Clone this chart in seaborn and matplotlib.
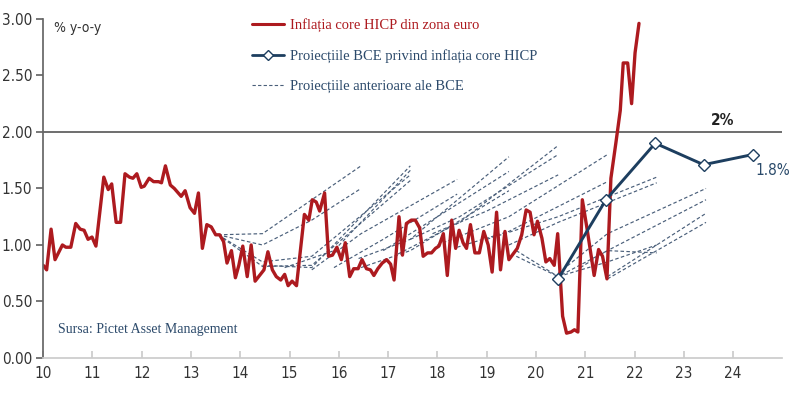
import pandas as pd
import matplotlib.pyplot as plt
import seaborn as sns
from matplotlib.lines import Line2D

# Inflatia core HICP
core_x = [2010.00, 2010.07, 2010.16, 2010.24, 2010.39, 2010.46, 2010.56, 2010.66, 2010.75, 2010.83,
          2010.91, 2010.99, 2011.07, 2011.23, 2011.32, 2011.39, 2011.48, 2011.57, 2011.66, 2011.75,
          2011.82, 2011.90, 2011.99, 2012.05, 2012.15, 2012.24, 2012.34, 2012.40, 2012.48, 2012.58,
          2012.66, 2012.80, 2012.88, 2012.98, 2013.07, 2013.15, 2013.23, 2013.32, 2013.41, 2013.50,
          2013.58, 2013.66, 2013.73, 2013.82, 2013.90, 2013.97, 2014.05, 2014.14, 2014.22, 2014.30,
          2014.39, 2014.48, 2014.56, 2014.65, 2014.73, 2014.82, 2014.90, 2014.97, 2015.05, 2015.14,
          2015.30, 2015.39, 2015.46, 2015.54, 2015.61, 2015.71, 2015.79, 2015.87, 2015.96, 2016.05,
          2016.13, 2016.22, 2016.30, 2016.39, 2016.47, 2016.56, 2016.64, 2016.71, 2016.79, 2016.88,
          2016.97, 2017.05, 2017.12, 2017.22, 2017.29, 2017.37, 2017.47, 2017.55, 2017.64, 2017.71,
          2017.80, 2017.88, 2017.96, 2018.03, 2018.12, 2018.20, 2018.29, 2018.37, 2018.44, 2018.52,
          2018.59, 2018.67, 2018.76, 2018.85, 2018.94, 2019.03, 2019.11, 2019.20, 2019.28, 2019.37,
          2019.45, 2019.62, 2019.71, 2019.80, 2019.88, 2019.96, 2020.03, 2020.12, 2020.20, 2020.28,
          2020.37, 2020.44, 2020.54, 2020.62, 2020.71, 2020.78, 2020.85, 2020.94, 2021.03, 2021.10,
          2021.18, 2021.27, 2021.35, 2021.44, 2021.52, 2021.62, 2021.71, 2021.77, 2021.86, 2021.94,
          2022.01, 2022.09]
core_y = [0.82, 0.78, 1.14, 0.87, 1.00, 0.98, 0.98, 1.19, 1.14, 1.13,
          1.05, 1.07, 0.99, 1.60, 1.49, 1.54, 1.20, 1.20, 1.63, 1.60,
          1.59, 1.63, 1.51, 1.52, 1.59, 1.56, 1.56, 1.55, 1.70, 1.53,
          1.50, 1.43, 1.48, 1.33, 1.28, 1.46, 0.97, 1.18, 1.16, 1.09,
          1.09, 1.03, 0.84, 0.95, 0.71, 0.82, 0.99, 0.72, 1.00, 0.68,
          0.73, 0.78, 0.94, 0.78, 0.72, 0.69, 0.74, 0.64, 0.68, 0.64,
          1.27, 1.22, 1.40, 1.38, 1.30, 1.46, 0.90, 0.91, 0.98, 0.87,
          1.02, 0.72, 0.79, 0.79, 0.87, 0.79, 0.78, 0.73, 0.79, 0.84,
          0.87, 0.83, 0.69, 1.25, 0.91, 1.19, 1.22, 1.22, 1.15, 0.90,
          0.93, 0.93, 0.97, 0.99, 1.10, 0.73, 1.22, 0.97, 1.13, 1.02,
          0.97, 1.18, 0.93, 0.93, 1.12, 1.00, 0.76, 1.29, 0.78, 1.12,
          0.87, 0.97, 1.09, 1.31, 1.29, 1.09, 1.21, 1.06, 0.85, 0.88,
          0.82, 1.10, 0.37, 0.22, 0.23, 0.25, 0.23, 1.40, 1.16, 0.96,
          0.73, 0.96, 0.90, 0.70, 1.59, 1.90, 2.19, 2.61, 2.61, 2.25,
          2.70, 2.96]

# Proiectiile BCE actuale
ecb_x = [2020.45, 2021.42, 2022.42, 2023.40, 2024.40]
ecb_y = [0.70, 1.40, 1.90, 1.71, 1.80]

# Proiectiile anterioare (fiecare lista = o linie)
prev_proj = [
    [(2013.55, 1.09), (2014.45, 1.10), (2016.45, 1.70)],
    [(2013.55, 1.09), (2014.45, 1.00), (2015.45, 1.22), (2016.45, 1.50)],
    [(2013.55, 1.09), (2014.45, 0.85), (2015.45, 0.90), (2017.45, 1.62)],
    [(2013.55, 1.09), (2014.45, 0.81), (2015.45, 0.82), (2017.45, 1.57)],
    [(2014.45, 0.82), (2015.45, 0.80), (2017.45, 1.70)],
    [(2014.90, 0.80), (2015.90, 0.95), (2017.45, 1.66)],
    [(2015.45, 0.78), (2016.45, 1.10), (2018.40, 1.58)],
    [(2015.90, 0.80), (2016.90, 1.05), (2018.40, 1.45)],
    [(2016.40, 0.88), (2017.45, 1.05), (2019.45, 1.78)],
    [(2016.90, 0.95), (2018.00, 1.25), (2019.45, 1.65)],
    [(2016.45, 0.80), (2017.45, 0.95), (2019.45, 1.48)],
    [(2017.20, 0.92), (2018.45, 1.20), (2020.45, 1.88)],
    [(2017.45, 1.05), (2018.45, 1.25), (2020.45, 1.80)],
    [(2017.90, 1.10), (2019.00, 1.30), (2020.45, 1.62)],
    [(2018.00, 1.00), (2019.45, 1.25), (2021.45, 1.80)],
    [(2018.40, 0.98), (2019.45, 1.12), (2021.45, 1.56)],
    [(2019.00, 1.05), (2020.45, 1.25), (2022.45, 1.60)],
    [(2019.45, 1.00), (2020.45, 1.20), (2022.45, 1.55)],
    [(2019.60, 0.95), (2020.45, 0.72), (2021.45, 0.95), (2022.45, 0.93)],
    [(2019.60, 0.90), (2020.45, 0.72), (2021.45, 0.85), (2022.45, 1.00)],
    [(2020.45, 0.75), (2021.45, 1.10), (2023.45, 1.50)],
    [(2020.90, 0.80), (2021.45, 0.95), (2023.45, 1.40)],
    [(2021.45, 0.72), (2022.45, 1.00), (2023.45, 1.28)],
    [(2021.45, 0.70), (2022.45, 0.95), (2023.45, 1.20)],
]

x_ticks = list(range(2010, 2025))
x_labels = [str(y - 2000) for y in x_ticks]
y_ticks = [0, 0.5, 1.0, 1.5, 2.0, 2.5, 3.0]

red = '#ad1a1f'
navy = '#1d3e5f'
dash_col = '#4a5f7a'

sns.set_theme(style='white')
plt.rcParams['font.family'] = ['DejaVu Sans']
plt.rcParams['font.stretch'] = 'condensed'

core = pd.DataFrame({'an': core_x, 'val': core_y})
ecb = pd.DataFrame({'an': ecb_x, 'val': ecb_y})
rows = []
for i, linie in enumerate(prev_proj):
    for an, v in linie:
        rows.append({'id': i, 'an': an, 'val': v})
prev = pd.DataFrame(rows)

fig, ax = plt.subplots(figsize=(8, 3.93), dpi=100)
fig.subplots_adjust(left=0.054, right=0.978, bottom=0.089, top=0.952)

sns.lineplot(data=prev, x='an', y='val', units='id', estimator=None, sort=False,
             color=dash_col, lw=0.85, linestyle=(0, (3, 2)), ax=ax)
sns.lineplot(data=core, x='an', y='val', sort=False, color=red, lw=2.4, ax=ax)
sns.lineplot(data=ecb, x='an', y='val', sort=False, color=navy, lw=2.1, marker='D',
             markersize=6, markerfacecolor='white', markeredgecolor=navy, markeredgewidth=1.0, ax=ax)

ax.axhline(2.0, color='#555555', lw=1.2, zorder=1)

ax.set_xlim(2010, 2025)
ax.set_ylim(0, 3)
ax.set_xticks(x_ticks)
ax.set_xticklabels(x_labels)
ax.set_yticks(y_ticks)
ax.set_yticklabels([f'{v:.2f}' for v in y_ticks])
ax.set_xlabel('')
ax.set_ylabel('')
ax.tick_params(axis='y', direction='out', length=5, color='#666666', labelsize=11, labelcolor='#333333', pad=3)
ax.tick_params(axis='x', direction='in', length=5, color='#cccccc', labelsize=11, labelcolor='#333333', pad=6)
ax.yaxis.set_ticks_position('left')
ax.xaxis.set_ticks_position('bottom')
sns.despine(ax=ax)
ax.spines['left'].set_color('#666666')
ax.spines['bottom'].set_color('#cccccc')

ax.text(2010.22, 2.88, '% y-o-y', fontsize=10, color='#333333')
ax.text(2023.55, 2.06, '2%', fontsize=11, color='#222222', fontweight='bold')
ax.text(2024.45, 1.62, '1.8%', fontsize=11, color='#2a4a6a')
ax.text(2010.3, 0.22, 'Sursa: Pictet Asset Management', fontsize=10, color='#2c4a6b',
        family='Liberation Serif', stretch='normal')

handles = [
    Line2D([], [], color=red, lw=2.2),
    Line2D([], [], color=navy, lw=2.0, marker='D', markersize=5,
           markerfacecolor='white', markeredgecolor=navy),
    Line2D([], [], color=dash_col, lw=0.8, linestyle=(0, (3, 2))),
]
labels = ['Inflația core HICP din zona euro',
          'Proiecțiile BCE privind inflația core HICP',
          'Proiecțiile anterioare ale BCE']
leg = ax.legend(handles, labels, loc='upper left', bbox_to_anchor=(0.265, 1.04), frameon=False,
                prop={'family': 'Liberation Serif', 'size': 10.5, 'stretch': 'normal'}, labelspacing=1.15,
                handlelength=2.2, handletextpad=0.4)
for t, c in zip(leg.get_texts(), [red, '#2c4a6b', '#2c4a6b']):
    t.set_color(c)

plt.savefig('out.png', dpi=100)
